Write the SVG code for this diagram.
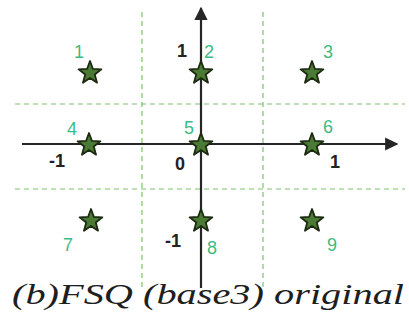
<svg xmlns="http://www.w3.org/2000/svg" xmlns:xlink="http://www.w3.org/1999/xlink" width="409" height="324" viewBox="0 0 409 324">
<style>
.grid{stroke:#7cc46a;stroke-width:1.2;stroke-dasharray:5 4;fill:none}
.axis{stroke:#262626;stroke-width:2.2;fill:none}
.star{fill:#4b7a35;stroke:#1c2a12;stroke-width:1.8;stroke-linejoin:round}
.lg{font-family:"Liberation Sans",Arial,sans-serif;font-size:18px;fill:#3dbb86;text-anchor:middle}
.lb{font-family:"Liberation Sans",Arial,sans-serif;font-size:18px;font-weight:bold;fill:#222;text-anchor:middle}
.cap{font-family:"Liberation Serif","Times New Roman",serif;font-style:italic;font-size:29px;fill:#1e1e1e}
</style>
<defs>
<path id="st" class="star" d="M0,-12 L2.94,-4.05 L11.41,-3.71 L4.76,1.55 L7.05,9.71 L0,5 L-7.05,9.71 L-4.76,1.55 L-11.41,-3.71 L-2.94,-4.05 Z"/>
<marker id="ah" viewBox="0 0 10 10" refX="9" refY="5" markerWidth="6" markerHeight="6" markerUnits="strokeWidth" orient="auto">
<path d="M0,0 L10,5 L0,10 Z" fill="#262626"/>
</marker>
</defs>
<g id="connectors">
<line class="grid" x1="142" y1="12" x2="142" y2="290"/>
<line class="grid" x1="263" y1="12" x2="263" y2="290"/>
<line class="grid" x1="15" y1="104" x2="405" y2="104"/>
<line class="grid" x1="15" y1="189" x2="405" y2="189"/>
<line class="axis" x1="22" y1="144" x2="397" y2="144" marker-end="url(#ah)"/>
<line class="axis" x1="201" y1="288" x2="201" y2="8" marker-end="url(#ah)"/>
</g>
<g id="axis-labels">
<text class="lb" x="182" y="57">1</text>
<text class="lb" x="57" y="167">-1</text>
<text class="lb" x="180" y="170">0</text>
<text class="lb" x="335" y="168">1</text>
<text class="lb" x="173" y="247">-1</text>
</g>
<g id="n1"><use xlink:href="#st" x="90" y="73"/><text class="lg" x="79" y="58">1</text></g>
<g id="n2"><use xlink:href="#st" x="201" y="73"/><text class="lg" x="209" y="58">2</text></g>
<g id="n3"><use xlink:href="#st" x="312" y="73"/><text class="lg" x="328" y="58">3</text></g>
<g id="n4"><use xlink:href="#st" x="89" y="145"/><text class="lg" x="72" y="135">4</text></g>
<g id="n5"><use xlink:href="#st" x="201" y="145"/><text class="lg" x="189" y="134">5</text></g>
<g id="n6"><use xlink:href="#st" x="312" y="145"/><text class="lg" x="328" y="133">6</text></g>
<g id="n7"><use xlink:href="#st" x="91" y="221"/><text class="lg" x="68" y="251">7</text></g>
<g id="n8"><use xlink:href="#st" x="201" y="221"/><text class="lg" x="212" y="254">8</text></g>
<g id="n9"><use xlink:href="#st" x="312" y="221"/><text class="lg" x="332" y="251">9</text></g>
<text class="cap" x="12" y="304" textLength="392" lengthAdjust="spacingAndGlyphs">(b)FSQ (base3) original</text>
</svg>
